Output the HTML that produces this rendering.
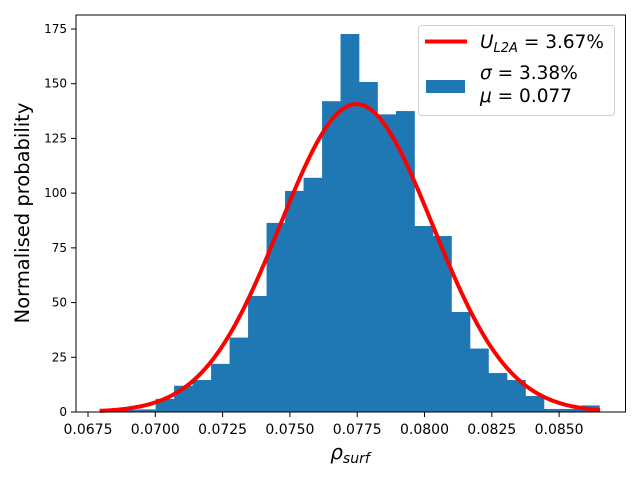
<!DOCTYPE html>
<html><head><meta charset="utf-8"><style>
body{margin:0;background:#fff;font-family:"Liberation Sans","DejaVu Sans",sans-serif}
</style></head><body>
<svg id="chart" width="640" height="480" xmlns="http://www.w3.org/2000/svg" font-family="DejaVu Sans, Liberation Sans, sans-serif">
<rect x="0" y="0" width="640" height="480" fill="#fff"/>
<g id="bars"></g>
<path id="curve" fill="none" stroke="#ff0000" stroke-width="4"/>
<rect x="76" y="15" width="549.5" height="397" fill="none" stroke="#000" stroke-width="1"/>
<g id="xticks" font-size="14"></g>
<g id="yticks" font-size="12"></g>
<text x="350" y="459" font-size="20" text-anchor="middle" font-style="italic">ρ<tspan font-size="14" dy="4">surf</tspan></text>
<text transform="translate(29,213) rotate(-90)" font-size="19.5" text-anchor="middle">Normalised probability</text>
<g>
<rect x="418.5" y="25.5" width="196" height="90" rx="3" fill="#fff" stroke="#d0d0d0"/>
<line x1="425" y1="41.5" x2="467" y2="41.5" stroke="#ff0000" stroke-width="4"/>
<text x="480" y="48" font-size="18.5"><tspan font-style="italic">U</tspan><tspan font-size="13" dy="4" font-style="italic">L2A</tspan><tspan dy="-4"> = 3.67%</tspan></text>
<rect x="426" y="80" width="39" height="13" fill="#1f77b4"/>
<text x="480" y="79" font-size="18.5"><tspan font-style="italic">σ</tspan> = 3.38%</text>
<text x="480" y="102" font-size="18.5"><tspan font-style="italic">μ</tspan> = 0.077</text>
</g>
</svg>
<script>
const binStart = 0.06795;
const binWidth = 0.000687;
const counts = [0.5,1,1.2,6,12,14.6,22,34,53,86.4,101,107,142,172.7,150.8,136,137.5,85,80.4,45.7,29,17.8,14.6,7.3,1.4,1.4,3];
const xTicks = [0.0675,0.0700,0.0725,0.0750,0.0775,0.0800,0.0825,0.0850];
const xTickLabels = ["0.0675","0.0700","0.0725","0.0750","0.0775","0.0800","0.0825","0.0850"];
const yTicks = [0,25,50,75,100,125,150,175];
const fitMean = 0.07747;
const fitSigma = 0.002836;
const fitRange = [0.06793,0.08652];

const NS="http://www.w3.org/2000/svg";
function X(v){return 88+(v-0.0675)*26920;}
function Y(v){return 412-v*2.1886;}
const bars=document.getElementById('bars');
counts.forEach((c,i)=>{
  const r=document.createElementNS(NS,'rect');
  const x0=X(binStart+i*binWidth), x1=X(binStart+(i+1)*binWidth);
  r.setAttribute('x',x0);r.setAttribute('width',x1-x0+0.3);
  r.setAttribute('y',Y(c));r.setAttribute('height',412-Y(c));
  r.setAttribute('fill','#1f77b4');
  
  
  bars.appendChild(r);
});
let d='';
for(let k=0;k<=200;k++){
  const v=fitRange[0]+(fitRange[1]-fitRange[0])*k/200;
  const p=Math.exp(-0.5*((v-fitMean)/fitSigma)**2)/(fitSigma*Math.sqrt(2*Math.PI));
  d+=(k?'L':'M')+X(v).toFixed(2)+','+Y(p).toFixed(2);
}
document.getElementById('curve').setAttribute('d',d);
const xt=document.getElementById('xticks');
xTicks.forEach((v,i)=>{
  const l=document.createElementNS(NS,'line');
  l.setAttribute('x1',X(v));l.setAttribute('x2',X(v));l.setAttribute('y1',412);l.setAttribute('y2',417);l.setAttribute('stroke','#000');
  
  
  xt.appendChild(l);
  const t=document.createElementNS(NS,'text');
  t.setAttribute('x',X(v));t.setAttribute('y',434);t.setAttribute('text-anchor','middle');
  t.textContent=xTickLabels[i];
  
  
  xt.appendChild(t);
});
const yt=document.getElementById('yticks');
yTicks.forEach(v=>{
  const l=document.createElementNS(NS,'line');
  l.setAttribute('x1',71);l.setAttribute('x2',76);l.setAttribute('y1',Y(v));l.setAttribute('y2',Y(v));l.setAttribute('stroke','#000');
  
  
  yt.appendChild(l);
  const t=document.createElementNS(NS,'text');
  t.setAttribute('x',67);t.setAttribute('y',Y(v)+4);t.setAttribute('text-anchor','end');
  t.textContent=String(v);
  
  
  yt.appendChild(t);
});
</script>
</body></html>
